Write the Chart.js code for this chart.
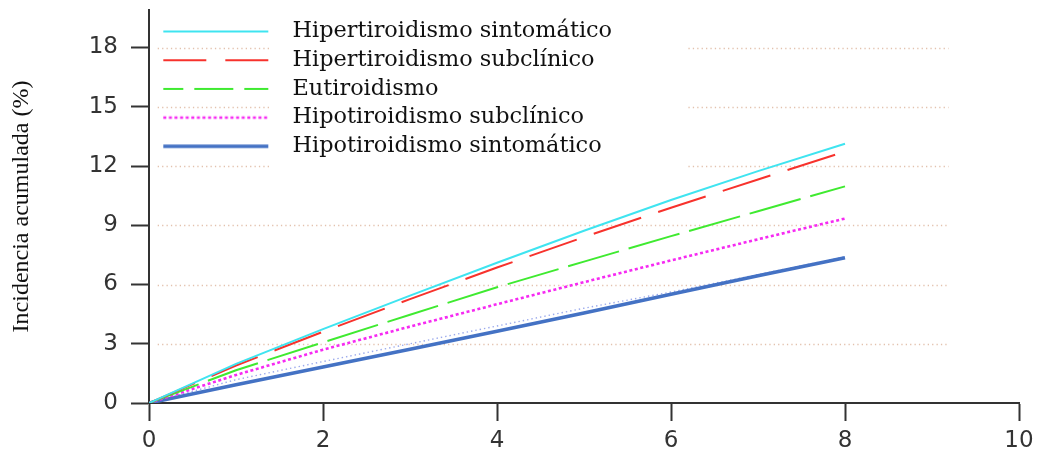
<!DOCTYPE html>
<html>
<head>
<meta charset="utf-8">
<script src="https://cdn.jsdelivr.net/npm/chart.js@4.4.1/dist/chart.umd.min.js"></script>
<style>
  html, body { margin: 0; padding: 0; background: #ffffff; }
  canvas { display: block; }
</style>
</head>
<body>
<canvas id="chart" width="1038" height="450"></canvas>
<script>
// Follow-up time (years) and cumulative incidence (%) per thyroid function group
const years = [0, 1, 2, 3, 4, 5, 6, 7, 8];
const hiperSintomatico = [0, 1.98, 3.74, 5.44, 7.10, 8.72, 10.28, 11.74, 13.13];
const hiperSubclinico  = [0, 1.90, 3.61, 5.26, 6.86, 8.40, 9.89, 11.32, 12.73];
const eutiroidismo     = [0, 1.66, 3.07, 4.47, 5.86, 7.16, 8.45, 9.71, 10.97];
const hipoSubclinico   = [0, 1.42, 2.70, 3.87, 5.00, 6.12, 7.22, 8.29, 9.34];
const hipoSintomatico  = [0, 0.92, 1.82, 2.72, 3.63, 4.56, 5.51, 6.44, 7.36];
const hipoSintomaticoTraza = [0, 1.18, 2.10, 3.00, 3.90, 4.80, 5.62, 6.50, 7.40];

const seriesNames = [
  'Hipertiroidismo sintomático',
  'Hipertiroidismo subclínico',
  'Eutiroidismo',
  'Hipotiroidismo subclínico',
  'Hipotiroidismo sintomático'
];
const xTicks = [0, 2, 4, 6, 8, 10];
const yTicks = [0, 3, 6, 9, 12, 15, 18];
const yTitle = 'Incidencia acumulada (%)';

const toPoints = vals => vals.map((v, i) => ({ x: years[i], y: v }));

// Line styles: colour, width, dash for the plot and dash/offset for the legend sample
const styles = [
  { color: '#3fe4f0', width: 2,   dash: [],        legendDash: [],       legendOffset: 0 },
  { color: '#f7322c', width: 2,   dash: [50, 18],  legendDash: [43, 19], legendOffset: 0 },
  { color: '#3fea30', width: 2,   dash: [53, 10],  legendDash: [39, 11], legendOffset: 19 },
  { color: '#f62af2', width: 2.6, dash: [3, 2.6],  legendDash: [3, 2.6], legendOffset: 0 },
  { color: '#4472c4', width: 3.6, dash: [],        legendDash: [],       legendOffset: 0 }
];

// Small canvases used as legend point styles (a horizontal stroke with a left margin)
function legendSample(st) {
  const c = document.createElement('canvas');
  c.width = 126; c.height = 10;
  const g = c.getContext('2d');
  g.strokeStyle = st.color;
  g.lineWidth = st.width;
  g.setLineDash(st.legendDash);
  g.lineDashOffset = st.legendOffset;
  g.beginPath();
  g.moveTo(8, 5);
  g.lineTo(113, 5);
  g.stroke();
  return c;
}
const samples = styles.map(legendSample);

const seriesValues = [hiperSintomatico, hiperSubclinico, eutiroidismo, hipoSubclinico, hipoSintomatico];
const datasets = seriesValues.map((vals, i) => ({
  label: seriesNames[i],
  data: toPoints(vals),
  borderColor: styles[i].color,
  backgroundColor: styles[i].color,
  borderWidth: styles[i].width,
  borderDash: styles[i].dash,
  pointRadius: 0,
  tension: 0,
  fill: false
}));
// faint dotted trace running just above the symptomatic hypothyroidism curve
datasets.push({
  label: 'traza',
  data: toPoints(hipoSintomaticoTraza),
  borderColor: 'rgba(120,140,230,0.75)',
  borderWidth: 1.4,
  borderDash: [1.4, 3],
  pointRadius: 0,
  tension: 0,
  fill: false
});

// Dotted horizontal reference lines, interrupted behind the legend text
const dottedGrid = {
  id: 'dottedGrid',
  beforeDatasetsDraw(chart) {
    const { ctx, scales: { x, y } } = chart;
    ctx.save();
    ctx.strokeStyle = '#e3c2ae';
    ctx.lineWidth = 1.3;
    ctx.setLineDash([1.3, 3.1]);
    yTicks.filter(v => v > 0).forEach(v => {
      const py = Math.round(y.getPixelForValue(v)) + 0.5;
      const segs = v >= 12 ? [[0.1, 1.39], [6.2, 9.19]] : [[0.1, 9.19]];
      segs.forEach(([a, b]) => {
        ctx.beginPath();
        ctx.moveTo(x.getPixelForValue(a), py);
        ctx.lineTo(x.getPixelForValue(b), py);
        ctx.stroke();
      });
    });
    ctx.restore();
  }
};

const axisColor = '#333333';
const tickFont = { family: "'DejaVu Sans', sans-serif", size: 23 };

new Chart(document.getElementById('chart'), {
  type: 'line',
  data: { datasets },
  plugins: [dottedGrid],
  options: {
    responsive: false,
    animation: false,
    devicePixelRatio: 1,
    layout: { padding: { top: 10, right: 19, left: 0, bottom: 0 } },
    plugins: {
      tooltip: { enabled: false },
      legend: {
        position: 'chartArea',
        align: 'start',
        title: { display: true, text: '', font: { size: 10 }, padding: { top: 2, bottom: 0 } },
        labels: {
          usePointStyle: true,
          pointStyleWidth: 126,
          padding: 6.3,
          color: '#111111',
          font: { family: "'DejaVu Serif', serif", size: 22.4 },
          generateLabels(chart) {
            const base = Chart.defaults.plugins.legend.labels.generateLabels(chart);
            return base.filter(it => it.datasetIndex < 5).map(it => {
              it.pointStyle = samples[it.datasetIndex];
              return it;
            });
          }
        }
      }
    },
    scales: {
      x: {
        type: 'linear',
        min: 0,
        max: 10,
        afterBuildTicks(s) { s.ticks = xTicks.map(v => ({ value: v })); },
        afterFit(s) { s.height = 47; s.paddingLeft = 0; s.paddingRight = 0; },
        grid: { drawOnChartArea: false, drawTicks: true, tickLength: 18, tickColor: axisColor, tickWidth: 2 },
        border: { display: true, color: axisColor, width: 2 },
        ticks: { padding: 6, color: axisColor, font: tickFont, maxRotation: 0, autoSkip: false }
      },
      y: {
        type: 'linear',
        min: 0,
        max: 19.9,
        afterBuildTicks(s) { s.ticks = yTicks.map(v => ({ value: v })); },
        afterFit(s) { s.width = 149; s.paddingTop = 0; s.paddingBottom = 0; },
        grid: { drawOnChartArea: false, drawTicks: true, tickLength: 18, tickColor: axisColor, tickWidth: 2 },
        border: { display: true, color: axisColor, width: 2 },
        ticks: { padding: 13, color: axisColor, font: tickFont, autoSkip: false },
        title: {
          display: true,
          text: yTitle,
          color: '#111111',
          font: { family: "'Liberation Serif', serif", size: 24 },
          padding: { top: 7, bottom: 0 }
        }
      }
    }
  }
});
</script>
</body>
</html>
